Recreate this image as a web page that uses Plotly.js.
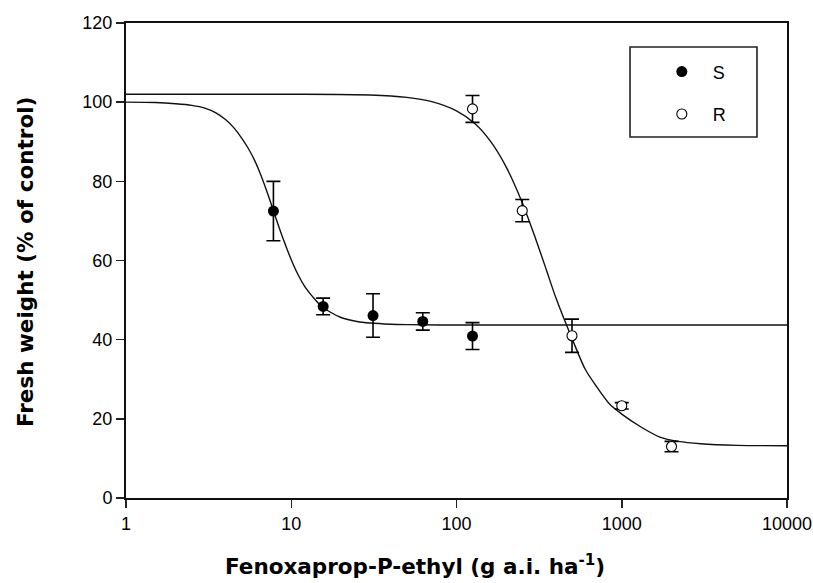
<!DOCTYPE html>
<html>
<head>
<meta charset="utf-8">
<script src="https://cdn.plot.ly/plotly-3.0.1.min.js"></script>
<style>html,body{margin:0;padding:0;background:#fff;}#chart{width:813px;height:583px;}</style>
</head>
<body>
<div id="chart"></div>
<script>
// Observed data (dose, % of control, SE)
const doseS = [7.8, 15.6, 31.25, 62.5, 125];
const weightS = [72.5, 48.4, 46.1, 44.6, 40.9];
const errS = [7.5, 2.1, 5.5, 2.2, 3.4];

const doseR = [125, 250, 500, 1000, 2000];
const weightR = [98.3, 72.6, 41.0, 23.3, 13.0];
const errR = [3.4, 2.8, 4.2, 0.8, 1.3];

// Fitted curves
const curveSx = [1, 1.5, 2, 2.5, 3, 3.5, 4, 4.5, 5, 5.5, 6, 6.5, 7, 7.5, 8, 9, 10, 11, 12, 13.5, 15, 17.5, 20, 25, 30, 40, 50, 100, 1000, 10000];
const curveSy = [100.0, 99.9, 99.6, 99.2, 98.5, 97.3, 95.6, 93.5, 91.0, 88.3, 85.3, 81.9, 78.3, 74.7, 71.2, 65.1, 60.2, 56.4, 53.6, 50.8, 48.7, 46.8, 45.6, 44.6, 44.2, 43.9, 43.8, 43.7, 43.7, 43.7];

const curveRx = [1, 10, 30, 50, 70, 100, 130, 160, 200, 250, 300, 350, 400, 500, 600, 700, 850, 1000, 1300, 1700, 2200, 3000, 5000, 10000];
const curveRy = [102.0, 102.0, 101.8, 101.2, 100.2, 97.8, 94.5, 90.2, 83.6, 74.6, 65.7, 57.6, 50.5, 40.3, 32.6, 28.3, 23.6, 21.2, 18.0, 15.4, 14.3, 13.7, 13.3, 13.2];

const xTicks = [1, 10, 100, 1000, 10000];
const xTickText = ["1", "10", "100", "1000", "10000"];
const legendNames = ["S", "R"];

const tickFont = {family: 'Liberation Sans, Arial, sans-serif', size: 18, color: '#000'};
const titleFont = {family: 'DejaVu Sans, sans-serif', size: 21.5, color: '#000', weight: 'bold'};

const traces = [
  {x: curveSx, y: curveSy, mode: 'lines', line: {color: '#111', width: 1.4, shape: 'spline', smoothing: 0.8}, showlegend: false, hoverinfo: 'skip'},
  {x: curveRx, y: curveRy, mode: 'lines', line: {color: '#111', width: 1.4, shape: 'spline', smoothing: 0.8}, showlegend: false, hoverinfo: 'skip'},
  {x: doseS, y: weightS, name: legendNames[0], legendgroup: 'S', mode: 'markers',
   marker: {color: '#000', size: 11, line: {color: '#000', width: 0}},
   error_y: {type: 'data', array: errS, visible: true, color: '#000', thickness: 1.6, width: 7}},
  {x: doseR, y: weightR, name: legendNames[1], legendgroup: 'R', mode: 'markers',
   marker: {color: '#fff', size: 10, line: {color: '#000', width: 1.1}},
   error_y: {type: 'data', array: errR, visible: true, color: '#000', thickness: 1.6, width: 7}}
];

const layout = {
  width: 813, height: 583,
  margin: {l: 126, r: 26, t: 23, b: 85},
  paper_bgcolor: '#fff', plot_bgcolor: '#fff',
  showlegend: true,
  legend: {x: 0.794, y: 0.936, xanchor: 'left', yanchor: 'top', bgcolor: 'rgba(0,0,0,0)', borderwidth: 0,
           font: tickFont, itemwidth: 52, tracegroupgap: 16, traceorder: 'grouped'},
  xaxis: {type: 'log', range: [0, 4], tickvals: xTicks, ticktext: xTickText, ticks: 'outside', ticklen: 8, tickwidth: 1.5, tickcolor: '#222',
          showline: true, linecolor: '#111', linewidth: 2, mirror: true, showgrid: false, zeroline: false, tickfont: tickFont},
  yaxis: {range: [0, 120], dtick: 20, tick0: 0, ticks: 'outside', ticklen: 8, tickwidth: 1.5, tickcolor: '#222',
          showline: true, linecolor: '#111', linewidth: 2, mirror: true, showgrid: false, zeroline: false, tickfont: tickFont},
  shapes: [
    {type: 'rect', xref: 'paper', yref: 'paper', x0: 0.7625, x1: 0.9546, y0: 0.76, y1: 0.9495, line: {color: '#222', width: 1.6}, fillcolor: 'rgba(0,0,0,0)'}
  ],
  annotations: [
    {text: 'Fenoxaprop-P-ethyl (g a.i. ha<sup>-1</sup>)', xref: 'paper', yref: 'paper', x: 0.437, y: -0.141, xanchor: 'center', yanchor: 'middle', showarrow: false, font: titleFont},
    {text: 'Fresh weight (% of control)', xref: 'paper', yref: 'paper', x: -0.151, y: 0.497, xanchor: 'center', yanchor: 'middle', textangle: -90, showarrow: false, font: titleFont}
  ]
};

Plotly.newPlot('chart', traces, layout, {displayModeBar: false, staticPlot: true});
</script>
</body>
</html>
